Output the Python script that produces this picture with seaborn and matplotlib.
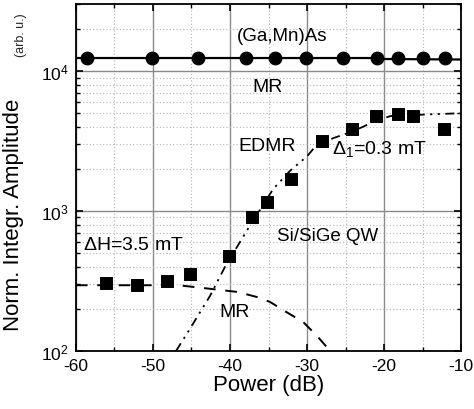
import numpy as np
import pandas as pd
import matplotlib
matplotlib.use("Agg")
import matplotlib.pyplot as plt
import seaborn as sns
from matplotlib.ticker import MultipleLocator, LogLocator, NullFormatter

# (Ga,Mn)As MR data (circles) and its flat fit
ga_power = [-58.6, -50.1, -44.2, -37.9, -34.2, -30.2, -25.3, -20.9, -18.2, -15.0, -12.1]
ga_amp = [12400, 12400, 12400, 12400, 12400, 12500, 12400, 12400, 12400, 12400, 12400]
ga_fit_power = [-60, -21, -20, -10]
ga_fit_amp = [12400, 12400, 12200, 12100]

# Si/SiGe QW data (squares)
si_power = [-56.1, -52.1, -48.2, -45.2, -40.1, -37.1, -35.2, -32.1, -28.1, -24.2, -21.0, -18.2, -16.2, -12.2]
si_amp = [306, 296, 316, 355, 477, 906, 1160, 1690, 3160, 3850, 4770, 4930, 4770, 3850]

# MR contribution (dashed)
mr_power = [-60, -50, -46, -43.5, -39.0, -36.5, -34.8, -32.9, -30.5, -28.7, -27.0]
mr_amp = [295, 295, 292, 282, 264, 243, 224, 193, 161, 128, 100]

# EDMR contribution (dash-dot-dot)
edmr_power = [-47.0, -45.2, -42.6, -40.6, -37.7, -34.4, -32.2, -30.0, -29.0, -26.6, -24.0, -21.4, -19.2, -14.4, -10.0]
edmr_amp = [100, 144, 247, 404, 741, 1435, 1940, 2460, 2860, 3320, 3720, 4330, 4770, 4900, 5000]

sns.set_style("ticks")
plt.rcParams['font.family'] = ['Liberation Sans', 'DejaVu Sans']
plt.rcParams['mathtext.fontset'] = 'custom'
plt.rcParams['mathtext.rm'] = 'Liberation Sans'
plt.rcParams['mathtext.it'] = 'Liberation Sans:italic'
plt.rcParams['mathtext.bf'] = 'Liberation Sans:bold'
plt.rcParams['axes.unicode_minus'] = False

fig = plt.figure(figsize=(4.74, 4.10), dpi=100)
ax = fig.add_axes([0.160, 0.1415, 0.813, 0.846])

ax.set_yscale('log')
ax.set_xlim(-60, -10)
ax.set_ylim(100, 30100)

# grids
ax.xaxis.set_minor_locator(MultipleLocator(5))
ax.xaxis.set_major_locator(MultipleLocator(10))
ax.yaxis.set_minor_locator(LogLocator(base=10, subs=np.arange(2, 10)))
ax.yaxis.set_minor_formatter(NullFormatter())
ax.grid(which='major', color='#8a8a8a', linestyle='-', linewidth=1.0)
ax.grid(which='minor', color='#b5b5b5', linestyle=(0, (1, 2)), linewidth=0.8)
ax.set_axisbelow(True)

sns.lineplot(x=ga_fit_power, y=ga_fit_amp, ax=ax, color='black', linewidth=1.6,
             estimator=None, sort=False)
sns.lineplot(x=mr_power, y=mr_amp, ax=ax, color='black', linewidth=1.4,
             estimator=None, sort=False).lines[-1].set_dashes((6, 5))
sns.lineplot(x=edmr_power, y=edmr_amp, ax=ax, color='black', linewidth=1.3,
             estimator=None, sort=False).lines[-1].set_dashes((5, 3, 1.2, 3, 1.2, 3))

sns.scatterplot(x=ga_power, y=ga_amp, ax=ax, marker='o', s=85, color='black',
                edgecolor='black', zorder=5)
sns.scatterplot(x=si_power, y=si_amp, ax=ax, marker='s', s=75, color='black',
                edgecolor='black', zorder=5)

for sp in ax.spines.values():
    sp.set_linewidth(1.3)
    sp.set_color('black')

ax.tick_params(which='both', direction='in', top=True, right=True, color='black')
ax.tick_params(which='major', length=5, width=1.2, labelsize=12.5, pad=5,
               labelcolor='black')
ax.tick_params(which='minor', length=3, width=1.0)

ax.set_xlabel('Power (dB)', fontsize=16, labelpad=1, color='black')
ax.set_ylabel('Norm. Integr. Amplitude', fontsize=16, color='black')
ax.yaxis.set_label_coords(-0.135, 0.395)
fig.text(0.045, 0.915, '(arb. u.)', rotation=90, fontsize=9, ha='center', va='center')

fs = 14
ax.text(-33.2, 18100, '(Ga,Mn)As', fontsize=13.5, ha='center', va='center', color='black')
ax.text(-35.1, 7800, 'MR', fontsize=fs, ha='center', va='center', color='black')
ax.text(-35.2, 2960, 'EDMR', fontsize=fs, ha='center', va='center', color='black')
ax.text(-26.7, 2800, r'$\Delta_1$=0.3 mT', fontsize=fs, ha='left', va='center', color='black')
ax.text(-27.3, 665, 'Si/SiGe QW', fontsize=13.5, ha='center', va='center', color='black')
ax.text(-59.1, 580, r'$\Delta$H=3.5 mT', fontsize=fs, ha='left', va='center', color='black')
ax.text(-39.4, 191, 'MR', fontsize=fs, ha='center', va='center', color='black')

fig.savefig('out.png', dpi=100)
